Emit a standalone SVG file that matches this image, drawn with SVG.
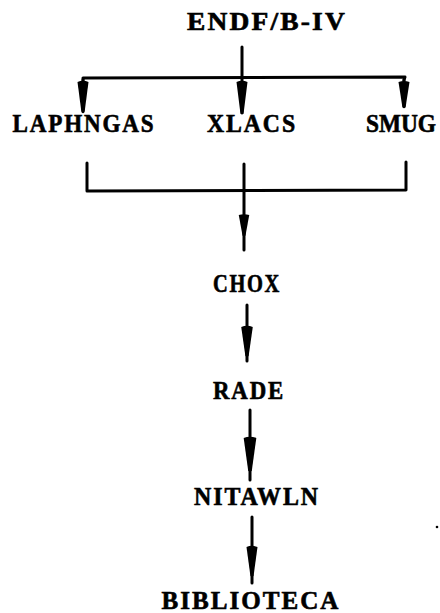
<svg xmlns="http://www.w3.org/2000/svg" xmlns:xlink="http://www.w3.org/1999/xlink" width="440" height="613" viewBox="0 0 440 613">
  <style>
    .label { font-family: "Liberation Serif", "Times New Roman", serif; font-weight: bold; font-size: 25px; letter-spacing: 2px; fill: #000; stroke: #000; stroke-width: 0.6; text-anchor: middle; }
    .tight { letter-spacing: 0; }
    .wire { stroke: #000; stroke-width: 3; fill: none; stroke-linecap: round; stroke-linejoin: round; }
    .head { fill: #000; }
  </style>
  <defs>
    <!-- narrow wedge arrowhead, widest at top (y=0), point at bottom -->
    <path id="wedge" class="head" d="M -5.5 0 Q 0 -2 5.5 0 L 1.6 24 Q 0 26 -1.6 24 Z"/>
  </defs>
  <rect width="440" height="613" fill="#fff"/>

  <g id="connectors">
    <!-- ENDF/B-IV fan-out -->
    <path class="wire" d="M 242 47 L 242 112"/>
    <path class="wire" d="M 83 80 L 83 78 L 405 77 L 404 80"/>
    <path class="wire" d="M 83 80 L 83 110"/>
    <path class="wire" d="M 404 80 L 404 106"/>
    <use xlink:href="#wedge" transform="translate(83 82) scale(1 1.25)"/>
    <use xlink:href="#wedge" transform="translate(242 82) scale(1 1.3)"/>
    <use xlink:href="#wedge" transform="translate(404 82) scale(1 1.05)"/>

    <!-- collector bracket -->
    <path class="wire" d="M 87 163 L 87 191 L 406 190 L 406 162"/>
    <path class="wire" d="M 244 164 L 244 250"/>
    <use xlink:href="#wedge" transform="translate(244 215) scale(0.95 0.85)"/>

    <!-- CHOX -> RADE -->
    <path class="wire" d="M 247 305 L 247 361"/>
    <use xlink:href="#wedge" transform="translate(247 327) scale(1.05 1.2)"/>

    <!-- RADE -> NITAWLN -->
    <path class="wire" d="M 250 410 L 250 480"/>
    <use xlink:href="#wedge" transform="translate(250 438) scale(1.15 1.35)"/>

    <!-- NITAWLN -> BIBLIOTECA -->
    <path class="wire" d="M 252 517 L 252 583"/>
    <use xlink:href="#wedge" transform="translate(252 547) scale(1 1.2)"/>
  </g>

  <g id="endf"><text class="label" x="267" y="30" textLength="160" lengthAdjust="spacingAndGlyphs">ENDF/B-IV</text></g>
  <g id="laphngas"><text class="label" x="84" y="132" textLength="143" lengthAdjust="spacingAndGlyphs">LAPHNGAS</text></g>
  <g id="xlacs"><text class="label" x="252" y="132" textLength="90" lengthAdjust="spacingAndGlyphs">XLACS</text></g>
  <g id="smug"><text class="label tight" x="401" y="132" textLength="70" lengthAdjust="spacingAndGlyphs">SMUG</text></g>
  <g id="chox"><text class="label" x="247" y="292" textLength="68" lengthAdjust="spacingAndGlyphs">CHOX</text></g>
  <g id="rade"><text class="label" x="249" y="399" textLength="72" lengthAdjust="spacingAndGlyphs">RADE</text></g>
  <g id="nitawln"><text class="label" x="257" y="505" textLength="126" lengthAdjust="spacingAndGlyphs">NITAWLN</text></g>
  <g id="biblioteca"><text class="label" x="251" y="609" textLength="179" lengthAdjust="spacingAndGlyphs">BIBLIOTECA</text></g>

  <circle cx="437" cy="527" r="1.3" fill="#000"/>
</svg>
